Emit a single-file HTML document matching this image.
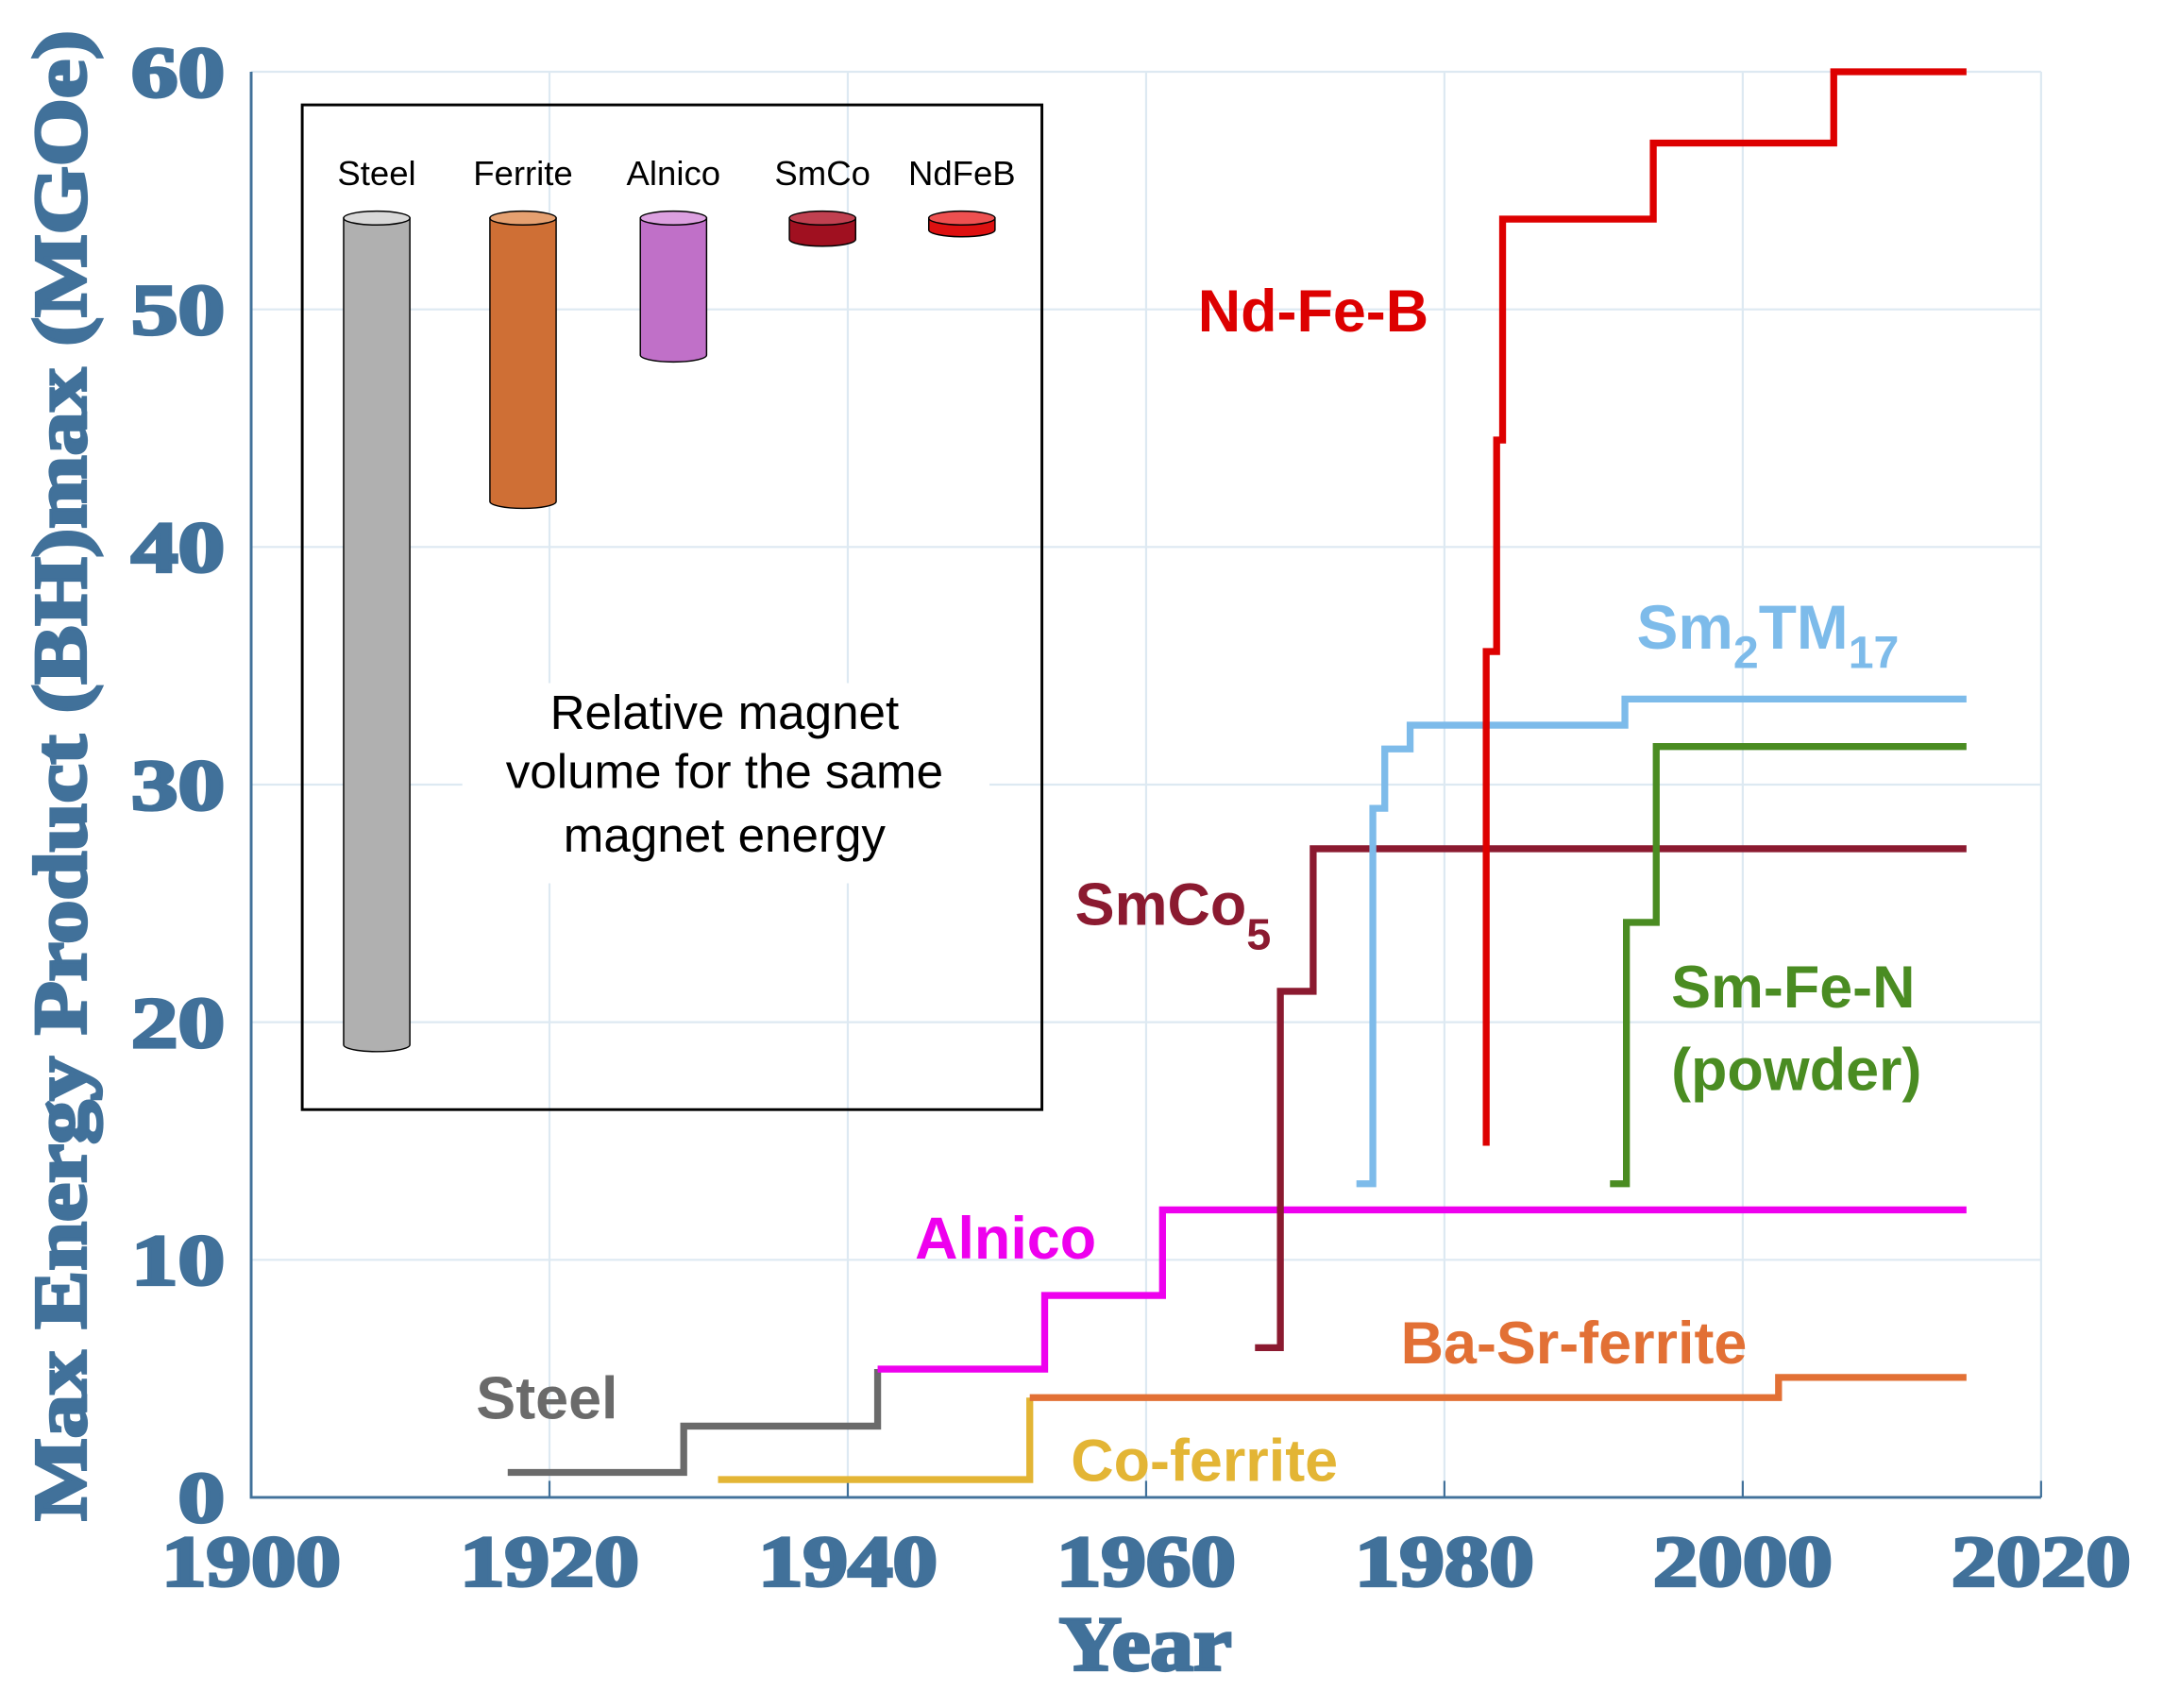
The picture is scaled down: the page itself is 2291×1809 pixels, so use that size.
<!DOCTYPE html>
<html><head><meta charset="utf-8"><style>
html,body{margin:0;padding:0;background:#fff;}
svg{display:block;}
.tk{font-family:"Liberation Serif",serif;font-weight:bold;fill:#41719a;stroke:#41719a;stroke-width:2.2;font-size:52px;}
.lb{font-family:"Liberation Sans",sans-serif;font-weight:bold;font-size:43px;}
.cl{font-family:"Liberation Sans",sans-serif;font-size:25px;fill:#000;}
.cap{font-family:"Liberation Sans",sans-serif;font-size:35px;fill:#000;}
</style></head><body>
<svg id="chart" width="2291" height="1809" viewBox="0 0 2291 1809" xmlns="http://www.w3.org/2000/svg">
<g id="root" transform="scale(1.4617)">
<g id="grid"></g>
<g id="inset">
<rect x="219" y="76" width="536" height="728" fill="none" stroke="#000" stroke-width="2"/>
<rect x="335" y="495" width="382" height="145" fill="#fff"/>
<text class="cap" x="525" y="528" text-anchor="middle">Relative magnet</text>
<text class="cap" x="525" y="571" text-anchor="middle">volume for the same</text>
<text class="cap" x="525" y="617" text-anchor="middle">magnet energy</text>
</g>
<g id="axes"></g>
<g id="series"></g>
<g id="labels">
<text class="lb" x="868" y="240" fill="#dd0000">Nd-Fe-B</text>
<text class="lb" x="1186" y="470" fill="#7dbbea" style="font-size:45px">Sm<tspan dy="14" style="font-size:33px">2</tspan><tspan dy="-14">TM</tspan><tspan dy="14" style="font-size:33px">17</tspan></text>
<text class="lb" x="779" y="670" fill="#8b1a30">SmCo<tspan dy="18" style="font-size:32px">5</tspan></text>
<text class="lb" x="1211" y="730" fill="#4a8c22">Sm-Fe-N</text>
<text class="lb" x="1211" y="790" fill="#4a8c22">(powder)</text>
<text class="lb" x="663" y="912" fill="#ee00ee">Alnico</text>
<text class="lb" x="1015" y="988" fill="#e27035">Ba-Sr-ferrite</text>
<text class="lb" x="345" y="1028" fill="#6a6a6a">Steel</text>
<text class="lb" x="776" y="1073" fill="#e3b535">Co-ferrite</text>
</g>
</g>
</svg>
<script>
const xTicks=[1900,1920,1940,1960,1980,2000,2020];
const yTicks=[0,10,20,30,40,50,60];
const steelX=[1917.2,1929,1942];
const steelY=[1.05,3.0,5.4];
const alnicoX=[1942,1953.2,1961.1];
const alnicoY=[5.4,8.5,12.1];
const coFerriteX=[1931.3,1952.2];
const coFerriteY=[0.75,4.2];
const baSrX=[1952.2,2002.4];
const baSrY=[4.2,5.05];
const smco5X=[1967.3,1969,1971.2];
const smco5Y=[6.3,21.3,27.3];
const sm2X=[1974.1,1975.2,1976,1977.7,1992.1];
const sm2Y=[13.2,29,31.5,32.5,33.6];
const ndfebX=[1982.8,1982.8,1983.5,1983.9,1994,2006.1];
const ndfebY=[14.8,35.6,44.5,53.8,57,60];
const smfenX=[1991.1,1992.2,1994.2];
const smfenY=[13.2,24.2,31.6];
const cylNames=["Steel","Ferrite","Alnico","SmCo","NdFeB"];
const cylVol=[35,12,5.8,0.9,0.5];
const NS="http://www.w3.org/2000/svg";
const X0=182,X1=1479,Y0=1085,Y1=52;
function sx(v){return X0+(v-1900)*(X1-X0)/120;}
function sy(v){return Y0-v*(Y0-Y1)/60;}
function mk(t,a,p){const e=document.createElementNS(NS,t);for(const k in a)e.setAttribute(k,a[k]);p.appendChild(e);return e;}
const grid=document.getElementById('grid'),axes=document.getElementById('axes'),series=document.getElementById('series'),inset=document.getElementById('inset');
xTicks.forEach(t=>{
 const l=mk('line',{x1:sx(t),x2:sx(t),y1:Y1,y2:Y0,stroke:'#dde9f2','stroke-width':1.5},grid);
 
 
 const tk=mk('line',{x1:sx(t),x2:sx(t),y1:Y0,y2:Y0-12,stroke:'#41719a','stroke-width':1.5},axes);
 
 
 const tx=mk('text',{x:sx(t),y:1149,'text-anchor':'middle',class:'tk',textLength:130,lengthAdjust:'spacingAndGlyphs'},axes);
 tx.textContent=t;
 
 
});
yTicks.forEach(t=>{
 const l=mk('line',{x1:X0,x2:X1,y1:sy(t),y2:sy(t),stroke:'#dde9f2','stroke-width':1.5},grid);
 
 
 const s=String(t);
 const w=s.length*34;
 const tx=mk('text',{x:163-w,y:sy(t)+18,class:'tk',textLength:w,lengthAdjust:'spacingAndGlyphs'},axes);
 tx.textContent=s;
 
 
});
const ax=mk('path',{d:`M${X0} ${Y1}V${Y0}H${X1}`,fill:'none',stroke:'#41719a','stroke-width':2},axes);


const xt=mk('text',{x:830,y:1210,'text-anchor':'middle',class:'tk',style:'font-size:56px',textLength:125,lengthAdjust:'spacingAndGlyphs'},axes);
xt.textContent='Year';


const yt=mk('text',{x:0,y:0,'text-anchor':'middle',class:'tk',style:'font-size:54px',textLength:1080,lengthAdjust:'spacingAndGlyphs',transform:'translate(62,562) rotate(-90)'},axes);
yt.textContent='Max Energy Product (BH)max (MGOe)';


function step(xs,ys,end,color,name){
 let d=`M${sx(xs[0])} ${sy(ys[0])}`;
 for(let i=0;i<xs.length;i++){
  d+=`V${sy(ys[i])}H${i+1<xs.length?sx(xs[i+1]):sx(end)}`;
 }
 const p=mk('path',{d:d,fill:'none',stroke:color,'stroke-width':5,'stroke-linejoin':'miter'},series);
 
 
}
step(steelX,steelY,1942,'#6a6a6a','series-steel');
step(coFerriteX,coFerriteY,1952.2,'#e3b535','series-co-ferrite');
step(baSrX,baSrY,2015,'#e27035','series-ba-sr-ferrite');
step(alnicoX,alnicoY,2015,'#ee00ee','series-alnico');
step(smco5X,smco5Y,2015,'#8b1a30','series-smco5');
step(sm2X,sm2Y,2015,'#7dbbea','series-sm2tm17');
step(smfenX,smfenY,2015,'#4a8c22','series-smfen');
step(ndfebX,ndfebY,2015,'#dd0000','series-ndfeb');
const cylX=[273,379,488,596,697];
const cylFill=['#b0b0b0','#cf6f35','#c070c8','#a01020','#dd1010'];
const cylTop=['#d8d8d8','#e5a070','#dca0e0','#c04050','#ee5050'];
const pxPerVol=(757-158)/35;
cylNames.forEach((n,i)=>{
 const cx=cylX[i],top=158,h=Math.max(cylVol[i]*pxPerVol,8),bot=top+h,r=24,ry=5;
 const g=mk('g',{},inset);
 
 
 mk('path',{d:`M${cx-r} ${top}V${bot}A${r} ${ry} 0 0 0 ${cx+r} ${bot}V${top}Z`,fill:cylFill[i],stroke:'#000','stroke-width':1},g);
 mk('ellipse',{cx:cx,cy:top,rx:r,ry:ry,fill:cylTop[i],stroke:'#000','stroke-width':1},g);
 const t=mk('text',{x:cx,y:134,'text-anchor':'middle',class:'cl'},inset);
 t.textContent=n;
 
 
});
</script>
</body></html>
